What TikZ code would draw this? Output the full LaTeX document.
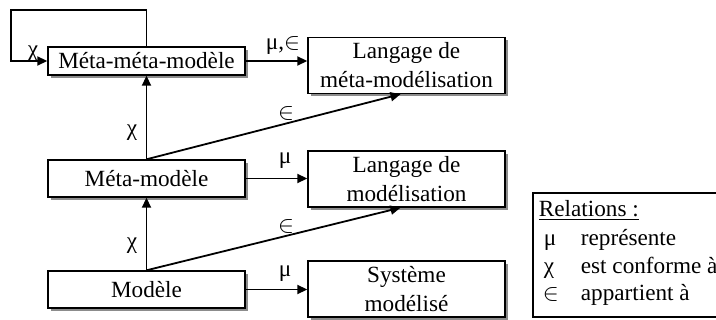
\documentclass[tikz,border=0pt]{standalone}
\usepackage{fontspec}
\setmainfont{Liberation Serif}
\usetikzlibrary{arrows.meta,shadows,calc}

\begin{document}
\begin{tikzpicture}[x=0.5pt, y=-0.5pt, line width=0.9pt, >={Triangle[length=5pt,width=4.5pt]}]
	\tikzstyle{every node} = [font=\fontsize{11.6}{14.5}\selectfont]
	\tikzstyle{boite} = [draw = black, line width=0.7pt, fill=white, inner sep=0pt, align=center, drop shadow={shadow xshift=1.5pt, shadow yshift=-1.5pt, fill=black!45, opacity=1}]
	\tikzstyle{modele} = [boite, minimum width=98.5pt, minimum height=18.5pt]
	\tikzstyle{langage} = [boite, minimum width=98.5pt, minimum height=28pt]
	\tikzstyle{legtexte} = [anchor=base west, inner sep=0pt]
	\path[use as bounding box, clip] (0,0) rectangle (716,320);

\node[modele, minimum height=14pt] (mmm) at (146.5, 61) {Méta-méta-modèle};
\node[modele] (mm) at (146.5, 178.5) {Méta-modèle};
\node[modele] (m) at (146.5, 289.5) {Modèle};
\node[langage] (lmm) at (406.5, 65.5) {Langage de\\méta-modélisation};
\node[langage] (lm) at (406.5, 179) {Langage de\\modélisation};
\node[langage] (sys) at (406.5, 289) {Système\\modélisé};

	% boucle sur le meta-meta-modele
	\coordinate (boucle) at (11, 10);
	\path[draw, ->] (mmm.north) |- (boucle) |- (mmm.west);
	\node (chi0) at (33, 54) {χ};

	\path[draw, ->] (mmm.east) -- (mmm.east -| lmm.west);
	\path[draw, ->] (mm.east) -- (mm.east -| lm.west);
	\path[draw, ->] (m.east) -- (m.east -| sys.west);
	\path[draw, ->] (mm.north) -- (mmm.south);
	\path[draw, ->] (m.north) -- (mm.south);
	\path[draw, ->] (mm.north) -- ([xshift=-3pt]lmm.south);
	\path[draw, ->] (m.north) -- ([xshift=-3pt]lm.south);

	\node (mu1) at (283, 46) {μ,$\in$};
	\node (chi1) at (132, 133) {χ};
	\node (in1) at (286, 114) {$\in$};
	\node (mu2) at (285, 161) {μ};
	\node (chi2) at (132, 246) {χ};
	\node (in2) at (286, 226) {$\in$};
	\node (mu3) at (285, 274) {μ};

	% legende
\node[draw = black, line width=0.7pt, minimum width=115pt, minimum height=62pt, inner sep=0pt] (legende) at (648, 255) {};
\node[legtexte] (titre) at (538, 216) {\underline{Relations :}};
\node[legtexte] (smu) at (543, 245) {μ};
\node[legtexte] (tmu) at (580, 245) {représente};
\node[legtexte] (schi) at (543, 273) {χ};
\node[legtexte] (tchi) at (580, 273) {est conforme à};
\node[legtexte] (sin) at (542, 300) {$\in$};
\node[legtexte] (tin) at (580, 300) {appartient à};
\end{tikzpicture}
\end{document}
